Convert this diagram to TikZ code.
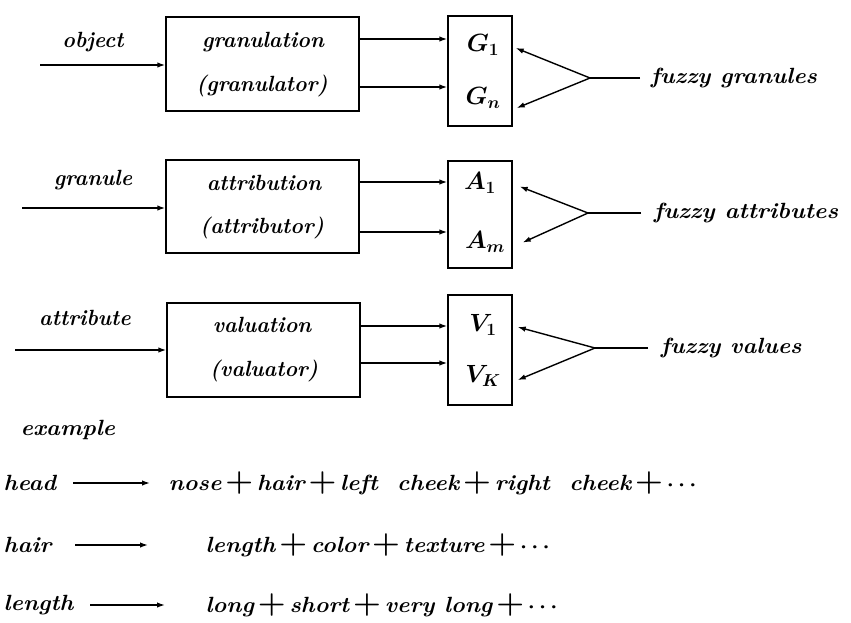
\documentclass[tikz,border=0pt]{standalone}
\usetikzlibrary{arrows.meta,calc}
\begin{document}
\begin{tikzpicture}[x=1pt,y=-1pt,line width=1.4pt,
  >={Latex[length=8pt,width=5.5pt]},
  lbl/.style={font=\fontsize{22}{24}\selectfont\bfseries\itshape,inner sep=0pt,xscale=0.97,transform shape},
  wide/.style={font=\fontsize{22}{24}\selectfont\bfseries\itshape,inner sep=0pt,xscale=1.06,transform shape},
  bigbox/.style={draw,minimum width=193pt,inner sep=0pt},
  smallbox/.style={draw,minimum width=64pt,inner sep=0pt},
  sym/.style={font=\fontsize{25}{27}\selectfont\boldmath,inner sep=0pt}]
\useasboundingbox (0,0) rectangle (851,622);
\newcommand{\pls}{\,{\upshape\fontsize{30}{30}\selectfont +}\,}
\newcommand{\dts}{{\boldmath$\cdots$}}

% big boxes
\node[bigbox,minimum height=94pt] (gran) at (262.5,64) {};
\node[bigbox,minimum height=93pt] (attr) at (262.5,206.5) {};
\node[bigbox,minimum height=94pt] (valu) at (263.5,350) {};
\node[lbl] (gran1) at (263,42) {granulation};
\node[lbl] (gran2) at (262,86) {(granulator)};
\node[lbl] (attr1) at (264,183) {attribution};
\node[lbl] (attr2) at (262,228) {(attributor)};
\node[lbl] (valu1) at (262,325) {valuation};
\node[lbl] (valu2) at (264,371) {(valuator)};

% small boxes
\node[smallbox,minimum height=110pt] (G) at (480,71) {};
\node[smallbox,minimum height=107pt] (A) at (480,214.5) {};
\node[smallbox,minimum height=110pt] (V) at (480,350) {};

\node[sym] (G1) at (483,45) {$G_1$};
\node[sym] (Gn) at (483,98) {$G_n$};
\node[sym] (A1) at (480,183) {$A_1$};
\node[sym] (Am) at (485,242) {$A_m$};
\node[sym] (V1) at (483,325) {$V_1$};
\node[sym] (VK) at (483,376) {$V_K$};

% inputs
\node[lbl] (obj) at (93,42) {object};
\node[lbl] (gra) at (93,180) {granule};
\node[lbl] (att) at (85,318) {attribute};
\coordinate (in1) at (40,65);
\coordinate (in2) at (22,208);
\coordinate (in3) at (15,350);
\draw[->] (in1) -- (gran.west |- in1);
\draw[->] (in2) -- (attr.west |- in2);
\draw[->] (in3) -- (valu.west |- in3);

% box to small box
\draw[->] (gran.east |- 0,39) -- (G.west |- 0,39);
\draw[->] (gran.east |- 0,87) -- (G.west |- 0,87);
\draw[->] (attr.east |- 0,182) -- (A.west |- 0,182);
\draw[->] (attr.east |- 0,232) -- (A.west |- 0,232);
\draw[->] (valu.east |- 0,326) -- (V.west |- 0,326);
\draw[->] (valu.east |- 0,363) -- (V.west |- 0,363);

% fuzzy labels
\node[wide,anchor=west] (fg) at (650,78) {fuzzy granules};
\node[wide,anchor=west,xscale=1.02] (fa) at (653,213) {fuzzy attributes};
\node[wide,anchor=west] (fv) at (660,348) {fuzzy values};
\coordinate (ag) at (590,78);
\coordinate (aa) at (588,213);
\coordinate (av) at (595,348);
\draw (fg.west) ++(-10,0) -- (ag);
\draw (fa.west) ++(-12,0) -- (aa);
\draw (fv.west) ++(-12,0) -- (av);
\draw[->] (ag) -- ($(G.east)+(3,-23)$);
\draw[->] (ag) -- ($(G.east)+(4,37)$);
\draw[->] (aa) -- ($(A.east)+(7,-28)$);
\draw[->] (aa) -- ($(A.east)+(10,28)$);
\draw[->] (av) -- ($(V.east)+(5,-23)$);
\draw[->] (av) -- ($(V.east)+(5,30)$);

% example
\node[wide,anchor=west] (ex) at (20,430) {example};
\node[wide,anchor=west] (h1) at (3,483) {head};
\node[wide,anchor=west] (r1) at (168,483) {nose\pls hair\pls left\ \ cheek\pls right\ \ cheek\pls\dts};
\node[wide,anchor=west] (h2) at (3,545) {hair};
\node[wide,anchor=west] (r2) at (205,545) {length\pls color\pls texture\pls\dts};
\node[wide,anchor=west] (h3) at (3,605) {length};
\node[wide,anchor=west] (r3) at (205,605) {long\pls short\pls very\ long\pls\dts};
\coordinate (e1s) at (73,483); \coordinate (e1e) at (150,483);
\coordinate (e2s) at (75,545); \coordinate (e2e) at (148,545);
\coordinate (e3s) at (90,605); \coordinate (e3e) at (165,605);
\draw[->] (e1s) -- (e1e);
\draw[->] (e2s) -- (e2e);
\draw[->] (e3s) -- (e3e);
\end{tikzpicture}
\end{document}
